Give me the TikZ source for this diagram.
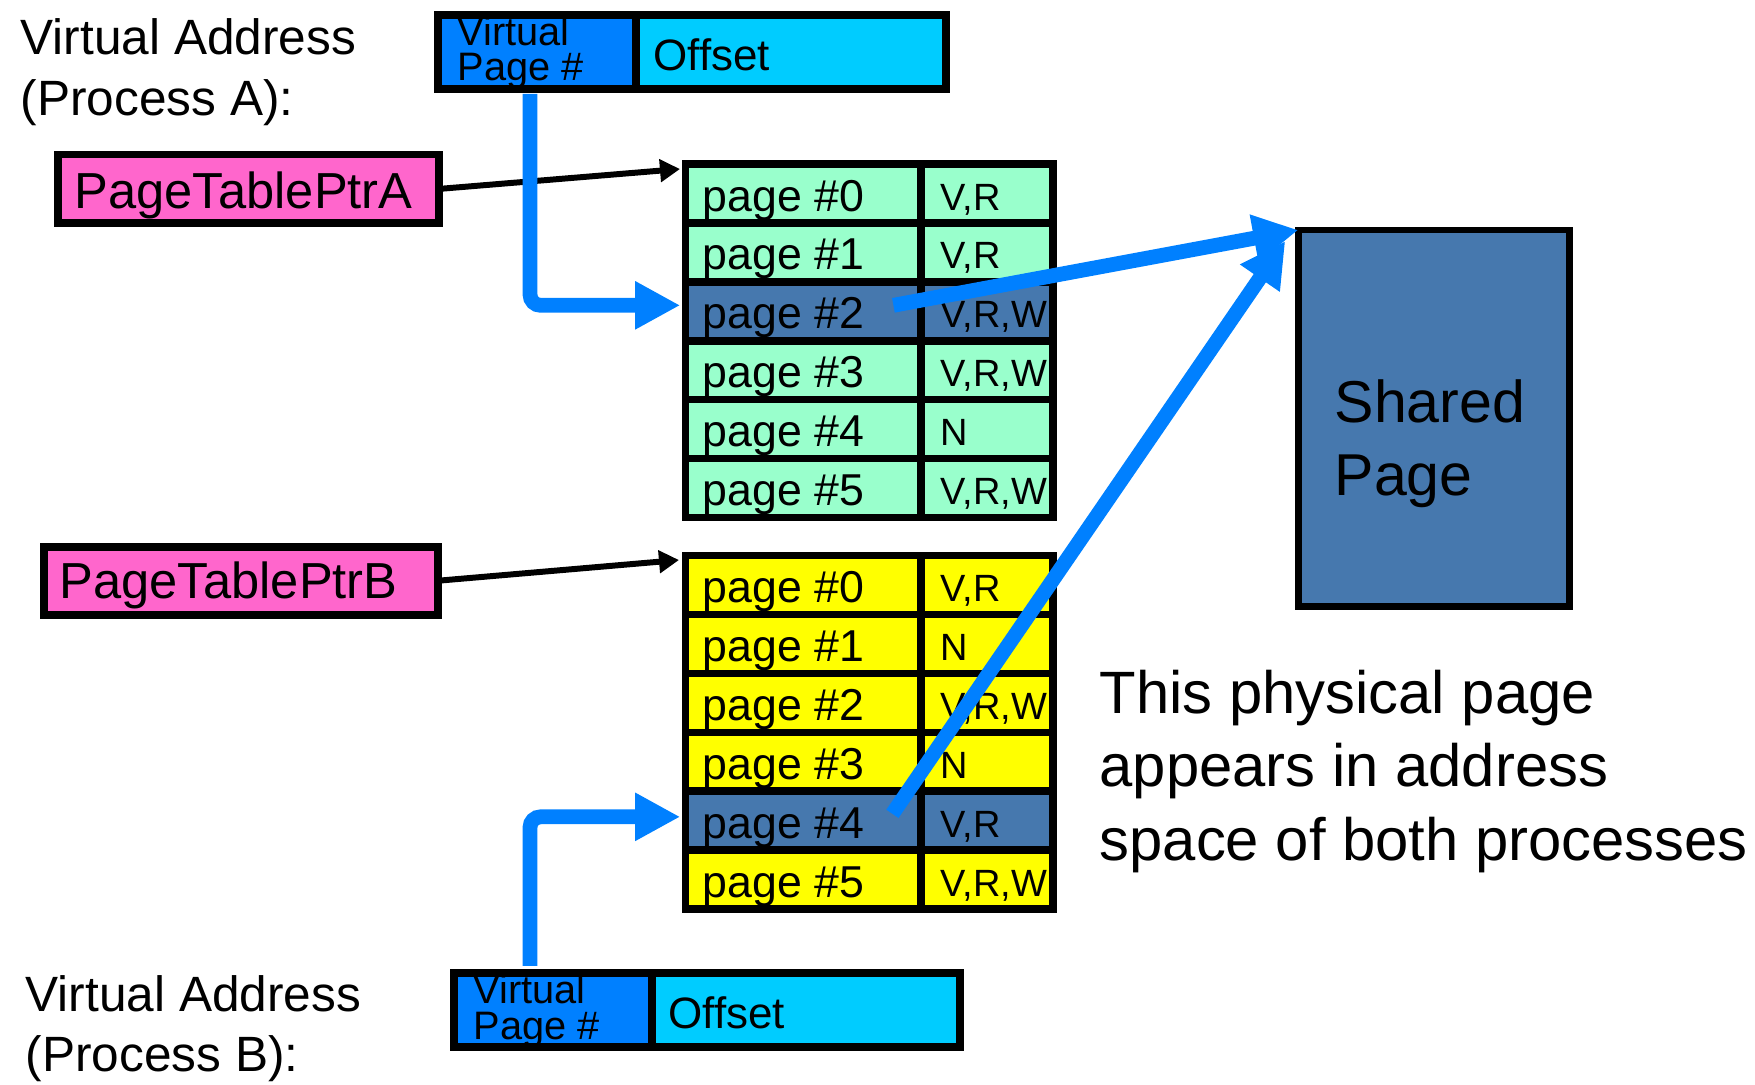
\documentclass[tikz,border=0pt]{standalone}
\usepackage{fontspec}
\setmainfont{Liberation Sans}
\usetikzlibrary{arrows.meta}

\definecolor{tblgreen}{RGB}{153,255,204}
\definecolor{tblyellow}{RGB}{255,255,0}
\definecolor{ptrpink}{RGB}{255,102,204}
\definecolor{vpnblue}{RGB}{0,128,255}
\definecolor{offcyan}{RGB}{0,204,255}
\definecolor{sharedblue}{RGB}{70,120,174}

\newcommand\bigtxt{\fontsize{14.1pt}{17.1pt}\selectfont}
\newcommand\ptrtxt{\fontsize{14.4pt}{17.1pt}\selectfont}
\newcommand\celltxt{\fontsize{12.7pt}{15pt}\selectfont}
\newcommand\flagtxt{\fontsize{10.8pt}{12pt}\selectfont}
\newcommand\vpntxt{\fontsize{11.3pt}{10.15pt}\selectfont}
\newcommand\offtxt{\fontsize{12.5pt}{15pt}\selectfont}
\newcommand\sharetxt{\fontsize{16.8pt}{20.5pt}\selectfont}
\newcommand\notetxt{\fontsize{17pt}{20.8pt}\selectfont}

\tikzset{
  cellbox/.style={draw,fill=#1,line width=2.2pt,anchor=north west,inner sep=0pt,outer sep=0pt,minimum height=0.59cm},
  txt/.style={anchor=base west,inner sep=0pt,align=left},
  ptrarrow/.style={line width=1.7pt,-{Triangle[length=0.2cm,width=0.22cm]}},
  vpnarrow/.style={draw=vpnblue,line width=4.2pt,rounded corners=3pt,shorten >=1.5pt,-{Triangle[length=0.45cm,width=0.45cm]}},
  sharearrow/.style={draw=vpnblue,line width=4.2pt,-{Triangle[length=0.45cm,width=0.45cm]}}
}

\begin{document}
\begin{tikzpicture}[x=0.01cm,y=-0.01cm]
\useasboundingbox (0,0) rectangle (1755,1084);

% virtual addresses (base = last line)
\node[txt,font=\bigtxt] (vaA) at (20,115) {Virtual Address\\(Process A):};
\node[cellbox=vpnblue,minimum width=1.984cm,minimum height=0.735cm] (vpnA) at (437.8,15.3) {};
\node[cellbox=offcyan,minimum width=3.093cm,minimum height=0.735cm] (offA) at (636.2,15.3) {};
\node[txt,font=\vpntxt] (vpnAt) at (457,80.7) {Virtual\\Page \#};
\node[txt,font=\offtxt] (offAt) at (653,70) {Offset};

\node[txt,font=\bigtxt] (vaB) at (25,1071.7) {Virtual Address\\(Process B):};
\node[cellbox=vpnblue,minimum width=1.983cm,minimum height=0.742cm] (vpnB) at (453.7,972.8) {};
\node[cellbox=offcyan,minimum width=3.08cm,minimum height=0.742cm] (offB) at (652,972.8) {};
\node[txt,font=\vpntxt] (vpnBt) at (473,1039) {Virtual\\Page \#};
\node[txt,font=\offtxt] (offBt) at (668,1028) {Offset};

% page table pointers
\node[cellbox=ptrpink,minimum width=3.809cm,minimum height=0.688cm] (ptrA) at (57.8,154.5) {};
\node[txt,font=\ptrtxt] (ptrAt) at (74,208) {PageTablePtrA};
\node[cellbox=ptrpink,minimum width=3.94cm,minimum height=0.68cm] (ptrB) at (43.7,546.7) {};
\node[txt,font=\ptrtxt] (ptrBt) at (59,598) {PageTablePtrB};

% page tables
\foreach \i/\c/\flag in {0/tblgreen/{V,R},1/tblgreen/{V,R},2/sharedblue/{V,R,W},3/tblgreen/{V,R,W},4/tblgreen/N,5/tblgreen/{V,R,W}}{
  \node[cellbox=\c,minimum width=2.358cm] (a\i) at (685.5,164+58.9*\i) {};
  \node[cellbox=\c,minimum width=1.317cm] (af\i) at (921.3,164+58.9*\i) {};
  \node[txt,font=\celltxt] (at\i) at (702,211+58.9*\i) {page \#\i};
  \node[txt,font=\flagtxt] (aft\i) at (940,210+58.9*\i) {\flag};
}
\foreach \i/\c/\flag in {0/tblyellow/{V,R},1/tblyellow/N,2/tblyellow/{V,R,W},3/tblyellow/N,4/sharedblue/{V,R},5/tblyellow/{V,R,W}}{
  \node[cellbox=\c,minimum width=2.358cm] (b\i) at (685.5,555.5+58.95*\i) {};
  \node[cellbox=\c,minimum width=1.317cm] (bf\i) at (921.3,555.5+58.95*\i) {};
  \node[txt,font=\celltxt] (bt\i) at (702,602.5+58.95*\i) {page \#\i};
  \node[txt,font=\flagtxt] (bft\i) at (940,601.5+58.95*\i) {\flag};
}

% shared page
\node[cellbox=sharedblue,line width=1.9pt,minimum width=2.71cm,minimum height=3.76cm] (shared) at (1298.3,230) {};
\node[txt,font=\sharetxt] (sharedt) at (1334,495) {Shared\\Page};
\node[txt,font=\notetxt] (note) at (1099,860) {This physical page\\appears in address\\space of both processes};

% arrows
\draw[ptrarrow] (ptrA.east) -- ([xshift=-0.055cm,yshift=-0.05cm]a0.north west);
\draw[ptrarrow] (ptrB.east) -- ([xshift=-0.065cm,yshift=-0.045cm]b0.north west);
\draw[vpnarrow] ([xshift=-0.07cm,yshift=-0.05cm]vpnA.south) |- ([yshift=0.06cm]a2.west);
\draw[vpnarrow] ([xshift=-0.229cm,yshift=0.07cm]vpnB.north) |- ([yshift=0.04cm]b4.west);
\draw[sharearrow] ([xshift=-0.28cm,yshift=0.06cm]a2.east) -- (shared.north west);
\draw[sharearrow] ([xshift=-0.29cm,yshift=0.07cm]b4.east) -- ([xshift=-0.13cm,yshift=-0.11cm]shared.north west);
\end{tikzpicture}
\end{document}
